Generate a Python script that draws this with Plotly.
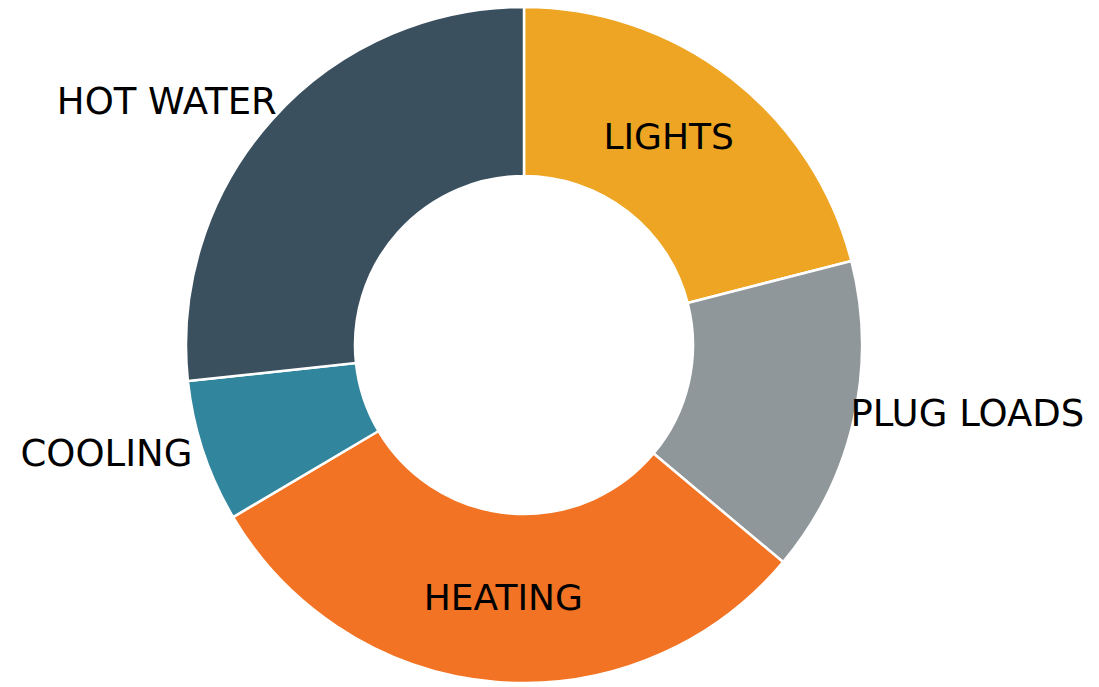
import plotly.graph_objects as go

labels = ["LIGHTS", "PLUG LOADS", "HEATING", "COOLING", "HOT WATER"]
values = [21.0, 15.1, 30.4, 6.8, 26.7]
colors = ["#EDA523", "#8F979A", "#F27323", "#31859C", "#3A505F"]
positions = ["inside", "outside", "inside", "outside", "outside"]

INSIDE_FONT = dict(family="DejaVu Sans", size=36, color="black")
OUTSIDE_FONT = dict(family="DejaVu Sans", size=37, color="black")

# plot-area height in px (used to size label-only overlay rings)
PLOT_H = 687 - 7 - 4


def only(name):
    return [lab if lab == name else "" for lab in labels]


fig = go.Figure()

# main donut: slices + HEATING / COOLING labels
fig.add_trace(go.Pie(
    labels=labels,
    values=values,
    text=[lab if lab in ("HEATING", "COOLING") else "" for lab in labels],
    textinfo="text",
    hole=0.5,
    sort=False,
    direction="clockwise",
    rotation=0,
    automargin=False,
    marker=dict(colors=colors, line=dict(color="white", width=2.5)),
    textposition=positions,
    insidetextorientation="auto",
    insidetextfont=INSIDE_FONT,
    outsidetextfont=OUTSIDE_FONT,
    hoverinfo="label+percent",
    showlegend=False,
))


def label_ring(name, radius_px, rot):
    half = radius_px / PLOT_H
    fig.add_trace(go.Pie(
        labels=labels,
        values=values,
        text=only(name),
        textinfo="text",
        hole=0.5,
        sort=False,
        direction="clockwise",
        rotation=rot,
        automargin=False,
        domain=dict(x=[0, 1], y=[0.5 - half, 0.5 + half]),
        marker=dict(colors=["rgba(0,0,0,0)"] * len(labels), line=dict(width=0)),
        textposition=positions,
        insidetextorientation="auto",
        insidetextfont=INSIDE_FONT,
        outsidetextfont=OUTSIDE_FONT,
        hoverinfo="skip",
        showlegend=False,
    ))


label_ring("LIGHTS", 338, -3.0)
label_ring("HOT WATER", 332, 2.65)
label_ring("PLUG LOADS", 323, -0.65)

fig.update_layout(
    width=1099, height=687,
    margin=dict(l=0, r=51, t=7, b=4),
    paper_bgcolor="white",
    plot_bgcolor="white",
)
fig.write_html("out.html")
